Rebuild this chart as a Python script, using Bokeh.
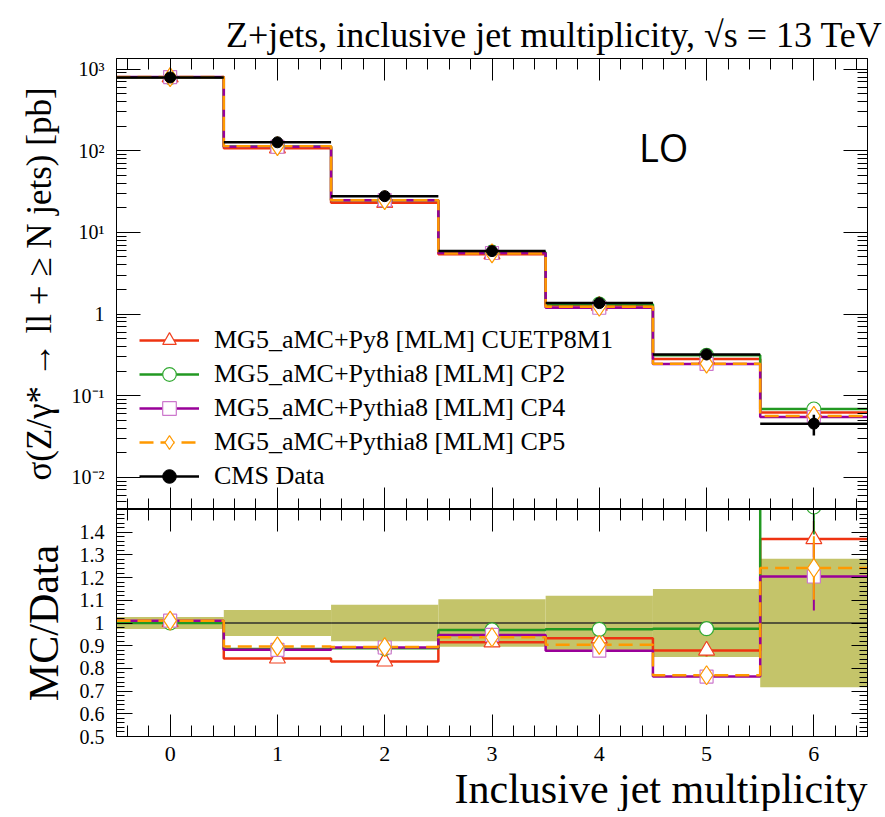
import numpy as np
from bokeh.plotting import figure
from bokeh.layouts import column
from bokeh.models import (Range1d, FixedTicker, CustomJSTickFormatter, LinearAxis, LogAxis,
                          Title, Label, Legend, LegendItem)
from bokeh.embed import file_html
from bokeh.resources import INLINE

# ---------------- data ----------------
njets = [0, 1, 2, 3, 4, 5, 6]
bin_edges = [-0.5, 0.5, 1.5, 2.5, 3.5, 4.5, 5.5, 6.5]
xtick_labels = ["0", "1", "2", "3", "4", "5", "6"]

data_xsec = [791.0, 127.0, 27.8, 5.90, 1.36, 0.320, 0.0454]          # pb
data_relerr = [0.026, 0.057, 0.080, 0.105, 0.120, 0.150, 0.283]

mc_cuetp8m1 = [795.0, 107.2, 23.1, 5.40, 1.269, 0.2813, 0.0622]
mc_cp2 = [791.0, 112.4, 24.7, 5.72, 1.322, 0.312, 0.0686]
mc_cp4 = [799.0, 112.0, 24.8, 5.59, 1.194, 0.2445, 0.0547]
mc_cp5 = [799.0, 113.9, 24.85, 5.53, 1.229, 0.2464, 0.0564]

mc_relerr_cuetp8m1 = [0.002, 0.004, 0.006, 0.010, 0.015, 0.030, 0.058]
mc_relerr_cp2 = [0.002, 0.004, 0.006, 0.010, 0.015, 0.025, 0.080]
mc_relerr_cp4 = [0.002, 0.004, 0.006, 0.010, 0.015, 0.025, 0.124]
mc_relerr_cp5 = [0.002, 0.004, 0.006, 0.010, 0.015, 0.025, 0.113]

labels = ["MG5_aMC+Py8 [MLM] CUETP8M1",
          "MG5_aMC+Pythia8 [MLM] CP2",
          "MG5_aMC+Pythia8 [MLM] CP4",
          "MG5_aMC+Pythia8 [MLM] CP5"]
data_label = "CMS Data"

title_text = "Z+jets, inclusive jet multiplicity, \u221As = 13 TeV"
ylabel_top = "\u03C3(Z/\u03B3* \u2192 ll + \u2265 N jets) [pb]"
ylabel_ratio = "MC/Data"
xlabel = "Inclusive jet multiplicity"

# ---------------- styles ----------------
SERIF = "Liberation Serif"
styles = [
    dict(color="#ee3311", mcolor="#f04020", marker="triangle", size=16, dash="solid"),
    dict(color="#229922", mcolor="#33aa33", marker="circle", size=14, dash="solid"),
    dict(color="#990099", mcolor="#cc77cc", marker="square", size=13, dash="solid"),
    dict(color="#ff9900", mcolor="#ff9900", marker="diamond", size=19, dash="14 7"),
]
mcs = [mc_cuetp8m1, mc_cp2, mc_cp4, mc_cp5]
mc_errs = [mc_relerr_cuetp8m1, mc_relerr_cp2, mc_relerr_cp4, mc_relerr_cp5]

data = np.array(data_xsec)
derr = np.array(data_relerr)
edges = np.array(bin_edges)

x_range = Range1d(-0.5, 6.5)

x_major = list(range(0, 7))
x_minor = [round(v, 1) for v in np.arange(-0.4, 6.41, 0.2) if abs(v - round(v)) > 1e-6]

log_major = [1e-2, 1e-1, 1.0, 1e1, 1e2, 1e3]
log_minor = [k * 10.0 ** e for e in range(-3, 4) for k in range(2, 10)]

ratio_major = [0.5, 0.6, 0.7, 0.8, 0.9, 1.0, 1.1, 1.2, 1.3, 1.4]
ratio_minor = [round(0.5 + 0.02 * i, 2) for i in range(0, 51)]

log_fmt = CustomJSTickFormatter(code="""
const e = Math.round(Math.log10(tick));
if (e === 0) { return "1"; }
const sup = {"-": "\\u207B", "0": "\\u2070", "1": "\\u00B9", "2": "\\u00B2", "3": "\\u00B3"};
let s = "";
for (const c of String(e)) { s += sup[c]; }
return "10" + s;
""")
ratio_fmt = CustomJSTickFormatter(code="""
if (Math.abs(tick - 1) < 1e-9) { return "1"; }
return tick.toFixed(1);
""")
blank_fmt = CustomJSTickFormatter(code="return '';")


def style_axis(ax, major_in, minor_in, labels_visible=True, font_size="20px"):
    ax.major_tick_in = major_in
    ax.major_tick_out = 0
    ax.minor_tick_in = minor_in
    ax.minor_tick_out = 0
    ax.axis_line_color = "black"
    ax.major_tick_line_color = "black"
    ax.minor_tick_line_color = "black"
    ax.major_label_text_font = SERIF
    ax.major_label_text_color = "black"
    ax.axis_label_text_font = SERIF
    ax.axis_label_text_font_style = "normal"
    ax.axis_label_text_color = "black"
    if labels_visible:
        ax.major_label_text_font_size = font_size
    else:
        ax.formatter = blank_fmt
        ax.major_label_text_font_size = "0px"
        ax.major_label_standoff = 0


# ---------------- top panel ----------------
p1 = figure(frame_width=751, frame_height=451, x_range=x_range,
            y_range=Range1d(0.00403, 1350), y_axis_type="log",
            output_backend="svg", toolbar_location=None,
            min_border_left=116, min_border_right=18, min_border_top=58, min_border_bottom=0,
            background_fill_color="white", border_fill_color="white")
p1.grid.visible = False
p1.outline_line_color = "black"
p1.title.text = title_text
p1.title.align = "right"
p1.title.offset = -15
p1.title.text_font = SERIF
p1.title.text_font_size = "36px"
p1.title.text_font_style = "normal"
p1.title.text_color = "black"
p1.title.standoff = 8

p1.xaxis.ticker = FixedTicker(ticks=x_major, minor_ticks=x_minor)
style_axis(p1.xaxis[0], 22, 11, labels_visible=False)
p1.yaxis.ticker = FixedTicker(ticks=log_major, minor_ticks=log_minor)
p1.yaxis.formatter = log_fmt
style_axis(p1.yaxis[0], 24, 10, font_size="20px")
p1.yaxis.axis_label = ylabel_top
p1.yaxis.axis_label_text_font_size = "35px"
p1.yaxis.major_label_standoff = 12
p1.yaxis.axis_label_standoff = 10

ax_r = LogAxis(ticker=FixedTicker(ticks=log_major, minor_ticks=log_minor))
style_axis(ax_r, 24, 10, labels_visible=False)
p1.add_layout(ax_r, "right")
ax_t = LinearAxis(ticker=FixedTicker(ticks=x_major, minor_ticks=x_minor))
style_axis(ax_t, 22, 11, labels_visible=False)
p1.add_layout(ax_t, "above")

line_rs, mark_rs = [], []
for mc, st in zip(mcs, styles):
    r = p1.step(x=list(edges), y=list(mc) + [mc[-1]], mode="after",
                line_color=st["color"], line_width=2.5, line_dash=st["dash"])
    line_rs.append(r)
for mc, err, st in zip(mcs, mc_errs, styles):
    mc_a = np.array(mc)
    e_a = np.array(err)
    p1.segment(x0=njets, y0=mc_a * (1 - e_a), x1=njets, y1=mc_a * (1 + e_a),
               line_color=st["color"], line_width=2)
    m = p1.scatter(x=njets, y=mc, marker=st["marker"], size=st["size"],
                   fill_color="white", line_color=st["mcolor"], line_width=1.2)
    mark_rs.append(m)

d_line = p1.segment(x0=list(edges[:-1]), y0=data_xsec, x1=list(edges[1:]), y1=data_xsec,
                    line_color="black", line_width=2.5)
p1.segment(x0=njets, y0=data * (1 - derr), x1=njets, y1=data * (1 + derr),
           line_color="black", line_width=2.5)
d_mark = p1.scatter(x=njets, y=data_xsec, marker="circle", size=11,
                    fill_color="black", line_color="black")

items = [LegendItem(label=lab, renderers=[lr, mr]) for lab, lr, mr in zip(labels, line_rs, mark_rs)]
items.append(LegendItem(label=data_label, renderers=[d_line, d_mark]))
legend = Legend(items=items, location=(23, 16), padding=0, margin=0, spacing=0,
                glyph_width=60, glyph_height=34, label_height=34, label_standoff=15,
                label_text_font=SERIF, label_text_font_size="26px", label_text_color="black",
                border_line_color=None, background_fill_alpha=0)
p1.add_layout(legend)

p1.add_layout(Label(x=4.6, y=110, text="LO", text_font="Open Sans", text_font_size="38px",
                    text_align="center", text_baseline="middle", text_color="black"))

# ---------------- ratio panel ----------------
p2 = figure(frame_width=751, frame_height=227, x_range=x_range, y_range=Range1d(0.5, 1.5),
            output_backend="svg", toolbar_location=None,
            min_border_left=116, min_border_right=18, min_border_top=0, min_border_bottom=0,
            background_fill_color="white", border_fill_color="white")
p2.grid.visible = False
p2.outline_line_color = "black"

p2.xaxis.ticker = FixedTicker(ticks=x_major, minor_ticks=x_minor)
p2.xaxis.major_label_overrides = {i: t for i, t in zip(x_major, xtick_labels)}
style_axis(p2.xaxis[0], 22, 11, font_size="22px")
p2.xaxis.major_label_standoff = 10
p2.yaxis.ticker = FixedTicker(ticks=ratio_major, minor_ticks=ratio_minor)
p2.yaxis.formatter = ratio_fmt
style_axis(p2.yaxis[0], 16, 8, font_size="20px")
p2.yaxis.axis_label = ylabel_ratio
p2.yaxis.axis_label_text_font_size = "42px"
p2.yaxis.major_label_standoff = 12
p2.yaxis.axis_label_standoff = 10

ax_r2 = LinearAxis(ticker=FixedTicker(ticks=ratio_major, minor_ticks=ratio_minor))
style_axis(ax_r2, 16, 8, labels_visible=False)
p2.add_layout(ax_r2, "right")
ax_t2 = LinearAxis(ticker=FixedTicker(ticks=x_major, minor_ticks=x_minor))
style_axis(ax_t2, 22, 11, labels_visible=False)
p2.add_layout(ax_t2, "above")

p2.add_layout(Title(text=xlabel, align="right", text_font=SERIF, text_font_size="42px",
                    text_font_style="normal", text_color="black", standoff=0), "below")

p2.quad(left=list(edges[:-1]), right=list(edges[1:]), bottom=list(1 - derr), top=list(1 + derr),
        fill_color="#c4c46a", fill_alpha=1.0, line_color=None)
ones = list(data / data)
p2.segment(x0=list(edges[:-1]), y0=ones, x1=list(edges[1:]), y1=ones,
           line_color="#55553a", line_width=2)

ratios = [np.array(mc) / data for mc in mcs]
for rat, st in zip(ratios, styles):
    p2.step(x=list(edges), y=list(rat) + [rat[-1]], mode="after",
            line_color=st["color"], line_width=2.5, line_dash=st["dash"])
for rat, err, st in zip(ratios, mc_errs, styles):
    e_a = np.array(err)
    p2.segment(x0=njets, y0=rat * (1 - e_a), x1=njets, y1=rat * (1 + e_a),
               line_color=st["color"], line_width=2)
    p2.scatter(x=njets, y=rat, marker=st["marker"], size=st["size"],
               fill_color="white", line_color=st["mcolor"], line_width=1.2)

layout = column(p1, p2, spacing=0)
open("out.html", "w").write(file_html(layout, INLINE))
